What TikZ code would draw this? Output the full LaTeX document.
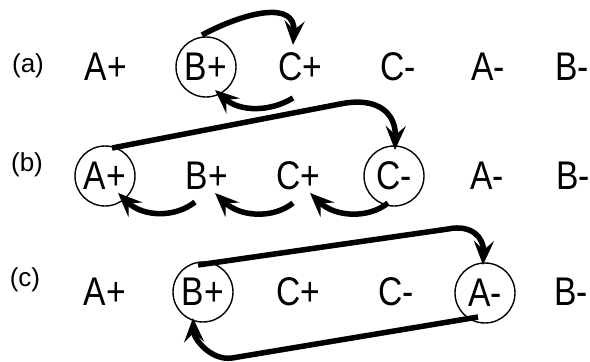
\documentclass[tikz,border=0pt]{standalone}
\usepackage{fontspec}
\setmainfont{Liberation Sans}[FakeStretch=0.84]
\newfontfamily\labfont{Liberation Sans}
\usetikzlibrary{arrows.meta,calc}
\begin{document}
\begin{tikzpicture}[x=1pt,y=-1pt,
  item/.style={circle, minimum size=60pt, inner sep=0pt, font=\fontsize{40}{40}\selectfont},
  sel/.style={item, draw, line width=1.4pt},
  lab/.style={inner sep=0pt, font=\labfont\fontsize{26}{26}\selectfont},
  conn/.style={line width=5.5pt, -{Stealth[length=24pt,width=20pt,inset=9pt]}},
]
\useasboundingbox (0,0) rectangle (590,362);
% row (a)
\node[lab] (la) at (28,66) {(a)};
\node[item] (aA)  at (106,67) {A+};
\node[sel]  (aB)  at (206,67) {B+};
\node[item] (aC)  at (300,67) {C+};
\node[item] (aCm) at (398,67) {C-};
\node[item] (aAm) at (488,67) {A-};
\node[item] (aBm) at (572,67) {B-};
% row (b)
\node[lab] (lb) at (27,165) {(b)};
\node[sel]  (bA)  at (105,176) {A+};
\node[item] (bB)  at (207,176) {B+};
\node[item] (bC)  at (298,176) {C+};
\node[sel]  (bCm) at (394,176) {C-};
\node[item] (bAm) at (487,176) {A-};
\node[item] (bBm) at (573,176) {B-};
% row (c)
\node[lab] (lc) at (25,280) {(c)};
\node[item] (cA)  at (105,292) {A+};
\node[sel]  (cB)  at (203,292) {B+};
\node[item] (cC)  at (298,292) {C+};
\node[item] (cCm) at (396,292) {C-};
\node[sel]  (cAm) at (485,293) {A-};
\node[item] (cBm) at (571,292) {B-};
% connectors (a)
\draw[conn] ($(aB)+(-4,-32)$) .. controls +(43,-23) and +(3,-45) .. ($(aC)+(-7,-22)$);
\draw[conn] ($(aC)+(-7,31)$) .. controls +(-23,14) and +(25,22) .. ($(aB)+(9,23)$);
% connectors (b)
\draw[conn] ($(bA)+(7,-28)$) -- ++(228,-44) .. controls +(40,-8) and +(1,-35) .. ($(bCm)+(1,-26)$);
\draw[conn] ($(bCm)+(-6,27)$) .. controls +(-20,16) and +(25,24) .. ($(bC)+(12,17)$);
\draw[conn] ($(bC)+(-5,27)$) .. controls +(-20,16) and +(25,24) .. ($(bB)+(8,17)$);
\draw[conn] ($(bB)+(-12,26)$) .. controls +(-20,16) and +(25,24) .. ($(bA)+(13,17)$);
% connectors (c)
\draw[conn] ($(cB)+(-5,-27)$) -- ++(250,-36) .. controls +(24,-5) and +(1,-27) .. ($(cAm)+(-2,-28)$);
\draw[conn] ($(cAm)+(-7,24)$) -- ++(-246,41) .. controls +(-20,3) and +(1,22) .. ($(cB)+(-10,26)$);
\end{tikzpicture}
\end{document}
